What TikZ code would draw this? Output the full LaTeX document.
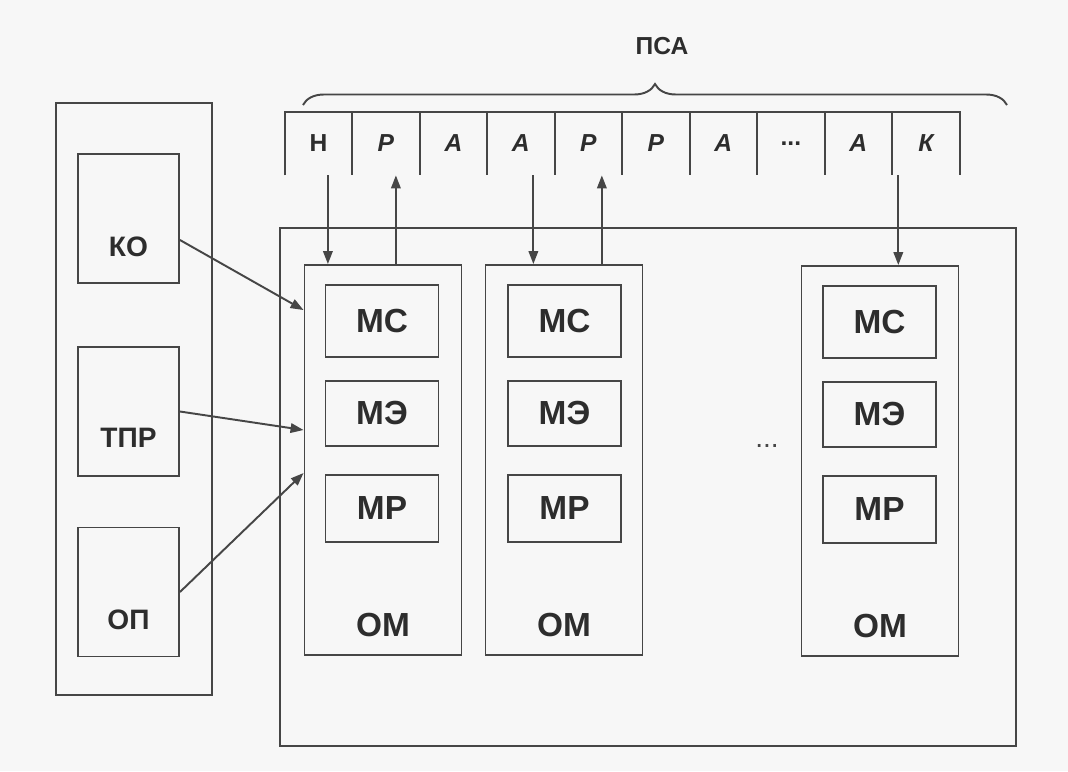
\documentclass[tikz,border=0pt]{standalone}
\usepackage{fontspec}
\setmainfont{Liberation Sans}
\usepackage{tikz}
\usetikzlibrary{positioning, arrows.meta, decorations.pathreplacing}

\definecolor{inkgray}{RGB}{70,70,70}
\definecolor{txtgray}{RGB}{45,45,45}
\definecolor{paper}{RGB}{247,247,247}

\begin{document}
\begin{tikzpicture}[
        x=0.02cm, y=-0.02cm,
        font=\bfseries,
        >={Triangle[length=2.6mm, width=1.9mm]},
        frame/.style={rectangle, draw=inkgray, line width=1.1pt, inner sep=0pt},
        unit/.style={frame, minimum width=2.02cm, minimum height=2.58cm},
        pe/.style={frame, minimum width=3.14cm, minimum height=7.8cm},
        module/.style={frame, minimum width=2.26cm, text=txtgray, font=\fontsize{19}{22}\selectfont\bfseries},
        cell/.style={rectangle, minimum width=1.336cm, minimum height=1.26cm, inner sep=0pt, text=txtgray, font=\fontsize{14}{16}\selectfont\bfseries\itshape},
        lbl/.style={text=txtgray, font=\fontsize{16}{18}\selectfont\bfseries},
        arrow/.style={->, draw=inkgray, line width=1.1pt}
    ]
        \fill[paper] (0,0) rectangle (1068,771);

        % Control unit
        \node[frame, minimum width=3.12cm, minimum height=11.84cm] (cu) at (134,399) {};
        \node[unit] (kobox) at (128.5,218.5) {};
        \node[unit] (tprbox) at (128.5,411.5) {};
        \node[unit] (opbox) at (128.5,592) {};
        \node[lbl] (ko) at ([yshift=-0.57cm]kobox.center) {КО};
        \node[lbl] (tpr) at ([yshift=-0.53cm]tprbox.center) {ТПР};
        \node[lbl] (op) at ([yshift=-0.56cm]opbox.center) {ОП};

        % Processing elements
        \node[frame, minimum width=14.72cm, minimum height=10.36cm] (field) at (648,487) {};
        \node[pe] (col1) at (383,460) {};
        \node[pe] (col2) at (564,460) {};
        \node[pe] (col3) at (880,461) {};

        \node[module, minimum height=1.44cm] (ms1) at (382,321) {МС};
        \node[module, minimum height=1.3cm, below=0.44cm of ms1] (me1) {МЭ};
        \node[module, minimum height=1.34cm, below=0.54cm of me1] (mr1) {МР};
        \node[lbl, font=\fontsize{19}{22}\selectfont\bfseries] (om1) at ([yshift=0.62cm]col1.south) {ОМ};

        \node[module, minimum height=1.44cm] (ms2) at (564.5,321) {МС};
        \node[module, minimum height=1.3cm, below=0.44cm of ms2] (me2) {МЭ};
        \node[module, minimum height=1.34cm, below=0.54cm of me2] (mr2) {МР};
        \node[lbl, font=\fontsize{19}{22}\selectfont\bfseries] (om2) at ([yshift=0.62cm]col2.south) {ОМ};

        \node[module, minimum height=1.44cm] (ms3) at (879.5,322) {МС};
        \node[module, minimum height=1.3cm, below=0.44cm of ms3] (me3) {МЭ};
        \node[module, minimum height=1.34cm, below=0.54cm of me3] (mr3) {МР};
        \node[lbl, font=\fontsize{19}{22}\selectfont\bfseries] (om3) at ([yshift=0.62cm]col3.south) {ОМ};

        \node[text=inkgray, font=\fontsize{16}{18}\selectfont] (dots) at (767,446) {...};

        % Instruction strip
        \node[cell, font=\fontsize{14}{16}\selectfont\bfseries] (c1) at (318.4,143.5) {Н};
        \node[cell, right=0pt of c1] (c2) {Р};
        \node[cell, right=0pt of c2] (c3) {А};
        \node[cell, right=0pt of c3] (c4) {А};
        \node[cell, right=0pt of c4] (c5) {Р};
        \node[cell, right=0pt of c5] (c6) {Р};
        \node[cell, right=0pt of c6] (c7) {А};
        \node[cell, right=0pt of c7, font=\fontsize{14}{16}\selectfont\bfseries] (c8) {...};
        \node[cell, right=0pt of c8] (c9) {А};
        \node[cell, right=0pt of c9] (c10) {К};

        \draw[inkgray, line width=1.1pt] (c1.south west) -- (c1.north west) -- (c10.north east) -- (c10.south east);
        \draw[inkgray, line width=1.1pt] (c2.north west) -- (c2.south west) (c3.north west) -- (c3.south west)
            (c4.north west) -- (c4.south west) (c5.north west) -- (c5.south west)
            (c6.north west) -- (c6.south west) (c7.north west) -- (c7.south west)
            (c8.north west) -- (c8.south west) (c9.north west) -- (c9.south west)
            (c10.north west) -- (c10.south west);

        % Brace and title
        \coordinate (bl) at (303,105);
        \coordinate (br) at (1007,105);
        \draw[inkgray, line width=1.1pt, decorate, decoration={brace, amplitude=0.42cm}] (bl) -- (br);
        \node[lbl, font=\fontsize{14}{16}\selectfont\bfseries] (psa) at (662,46) {ПСА};

        % Arrows
        \draw[arrow] ([xshift=0.19cm]c1.south) -- ([xshift=0.19cm]c1.south |- col1.north);
        \draw[arrow] ([xshift=0.2cm]c2.south |- col1.north) -- ([xshift=0.2cm]c2.south);
        \draw[arrow] ([xshift=0.25cm]c4.south) -- ([xshift=0.25cm]c4.south |- col2.north);
        \draw[arrow] ([xshift=0.27cm]c5.south |- col2.north) -- ([xshift=0.27cm]c5.south);
        \draw[arrow] ([xshift=-0.55cm]c10.south) -- ([xshift=-0.55cm]c10.south |- col3.north);

        \draw[arrow] ([yshift=-0.43cm]kobox.east) -- ([yshift=3cm]col1.west);
        \draw[arrow] (tprbox.east) -- ([yshift=0.6cm]col1.west);
        \draw[arrow] (opbox.east) -- ([yshift=-0.26cm]col1.west);
    \end{tikzpicture}
\end{document}
